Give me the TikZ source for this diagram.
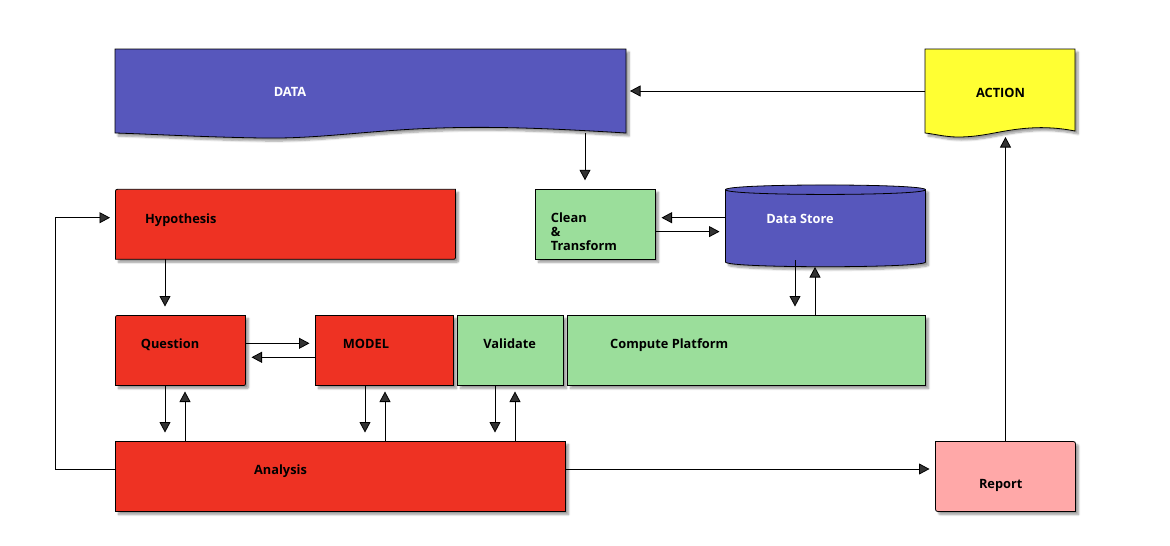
\documentclass[tikz,border=0pt]{standalone}
\usepackage{fontspec}
\setmainfont{Open Sans}
\usetikzlibrary{arrows.meta, shadows, shadows.blur, positioning}

\definecolor{datablue}{RGB}{87,87,188}
\definecolor{taskred}{RGB}{238,50,35}
\definecolor{platgreen}{RGB}{155,222,155}
\definecolor{actyellow}{RGB}{255,255,51}
\definecolor{reportpink}{RGB}{255,168,168}

\tikzset{
  shade box/.style={draw=black, line width=0.8pt,
    blur shadow={shadow xshift=3pt, shadow yshift=-3pt, shadow blur radius=2pt,
      shadow blur steps=6, shadow opacity=40}},
  box/.style={shade box, rectangle, inner sep=0pt, outer sep=0pt},
  frame/.style={rectangle, inner sep=0pt, outer sep=0pt},
  tag/.style={inner sep=0pt, font=\bfseries\fontsize{12.8}{14}\selectfont},
  lbl/.style={tag, text height=0.72em, text depth=0pt, yshift=-2pt},
  flow/.style={line width=0.8pt, -{Triangle[length=10.5pt,width=11pt]}, shorten >=6pt},
  flow down/.style={flow, shorten >=9pt},
}

\begin{document}
\begin{tikzpicture}[x=1pt, y=-1pt]
  \useasboundingbox (0,0) rectangle (1170,546);

  % outlines that are not plain rectangles
  \node[frame, minimum width=511, minimum height=84] (data) at (370.5,91) {};
  \node[frame, minimum width=150, minimum height=84] (action) at (1000,91) {};
  \node[frame, minimum width=340, minimum height=70] (hyp) at (285.5,224.3) {};
  \node[frame, minimum width=200, minimum height=82] (store) at (825.5,226) {};
  \node[frame, minimum width=130, minimum height=70] (quest) at (180.5,350.5) {};
  \node[frame, minimum width=140, minimum height=70] (report) at (1005.5,476.5) {};

  \path[shade box, fill=datablue] (data.north west) -- (data.north east) -- (data.south east)
    .. controls (560,129) and (500,126) .. (440,128)
    .. controls (370,130) and (320,139) .. (262,138)
    .. controls (200,137) and (150,134) .. (data.south west) -- cycle;
  \path[shade box, fill=actyellow] (action.north west) -- (action.north east) -- (1075,131)
    .. controls (1060,128) and (1045,127) .. (1030,128)
    .. controls (1000,130) and (985,137) .. (958,137)
    .. controls (945,137) and (935,134) .. (action.south west) -- cycle;
  \path[shade box, fill=taskred] (115.5,193.3) .. controls (115.5,189.3) .. (119.5,189.3)
    -- (455.5,189.3) -- (455.5,255.3) .. controls (455.5,259.3) .. (451.5,259.3)
    -- (115.5,259.3) -- cycle;
  \path[shade box, fill=datablue] (725.5,189.7) -- (725.5,262)
    .. controls (725.5,268.3) and (925.5,268.3) .. (925.5,262) -- (925.5,189.7)
    .. controls (925.5,183.4) and (725.5,183.4) .. cycle;
  \draw[line width=0.8pt] (725.5,189.7) .. controls (725.5,196) and (925.5,196) .. (925.5,189.7);
  \path[shade box, fill=taskred] (115.5,319.5) .. controls (115.5,315.5) .. (119.5,315.5)
    -- (245.5,315.5) -- (245.5,381.5) .. controls (245.5,385.5) .. (241.5,385.5)
    -- (115.5,385.5) -- cycle;
  \path[shade box, fill=reportpink] (935.5,441.5) -- (1070.5,441.5)
    .. controls (1075.5,441.5) .. (1075.5,446.5) -- (1075.5,511.5) -- (940.5,511.5)
    .. controls (935.5,511.5) .. (935.5,506.5) -- cycle;

  % plain boxes
  \node[box, fill=platgreen, minimum width=120, minimum height=70] (clean) at (595.5,224.3) {};
  \node[box, fill=taskred, minimum width=138, minimum height=70] (model) at (384.5,350.5) {};
  \node[box, fill=platgreen, minimum width=106, minimum height=70] (valid) at (510.5,350.5) {};
  \node[box, fill=platgreen, minimum width=358, minimum height=70] (comp) at (746.5,350.5) {};
  \node[box, fill=taskred, minimum width=450, minimum height=70] (anal) at (340.5,476.5) {};

  % texts
  \node[lbl, text=white] (data-t) at (290,91) {DATA};
  \node[lbl] (action-t) at (1000.5,91.7) {ACTION};
  \node[lbl, anchor=west] (hyp-t) at (145,217.7) {Hypothesis};
  \node[tag, anchor=base west, align=left] (clean-t) at (550.7,250.2) {Clean\\\&\\Transform};
  \node[lbl, text=white] (store-t) at (800,217.7) {Data Store};
  \node[lbl, anchor=west] (quest-t) at (140.7,343.3) {Question};
  \node[lbl, anchor=west] (model-t) at (342.7,343.3) {MODEL};
  \node[lbl] (valid-t) at (509.7,343.3) {Validate};
  \node[lbl, anchor=west] (comp-t) at (610,343.3) {Compute Platform};
  \node[lbl] (anal-t) at (280.5,469.3) {Analysis};
  \node[lbl] (report-t) at (1000.7,483.3) {Report};

  % connectors
  \draw[flow, shorten >=4pt] (action.west) -- (data.east);
  \draw[flow down] ([xshift=-10.5pt]clean.north |- data.south) -- ([xshift=-10.5pt]clean.north);
  \draw[flow] ([yshift=8.3pt]store.west) -- ([yshift=8.3pt]store.west -| clean.east);
  \draw[flow] ([yshift=-7.3pt]clean.east) -- ([yshift=-7.3pt]clean.east -| store.west);
  \draw[flow down] ([xshift=-30.5pt,yshift=7pt]store.south) -- ([xshift=-30.5pt]store.south |- comp.north);
  \draw[flow, shorten >=0pt] ([xshift=-10.5pt]store.south |- comp.north) -- ([xshift=-10.5pt]store.south);
  \draw[flow down] ([xshift=-15.5pt]quest.north |- hyp.south) -- ([xshift=-15.5pt]quest.north);
  \draw[flow] ([yshift=7.2pt]quest.east) -- ([yshift=7.2pt]quest.east -| model.west);
  \draw[flow] ([yshift=-6.8pt]model.west) -- ([yshift=-6.8pt]model.west -| quest.east);
  \draw[flow down] ([xshift=-15.5pt]quest.south) -- ([xshift=-15.5pt]quest.south |- anal.north);
  \draw[flow] ([xshift=4.5pt]quest.south |- anal.north) -- ([xshift=4.5pt]quest.south);
  \draw[flow down] ([xshift=-19.5pt]model.south) -- ([xshift=-19.5pt]model.south |- anal.north);
  \draw[flow] ([xshift=0.5pt]model.south |- anal.north) -- ([xshift=0.5pt]model.south);
  \draw[flow down] ([xshift=-15.5pt]valid.south) -- ([xshift=-15.5pt]valid.south |- anal.north);
  \draw[flow] ([xshift=4.5pt]valid.south |- anal.north) -- ([xshift=4.5pt]valid.south);
  \draw[flow] ([yshift=7.5pt]anal.east) -- ([yshift=7.5pt]anal.east -| report.west);
  \draw[flow, shorten >=4pt] (report.north) -- (report.north |- action.south);
  \draw[flow, shorten >=5.5pt] ([yshift=7.5pt]anal.west) -- ++(-60,0) |- ([yshift=6.6pt]hyp.west);
\end{tikzpicture}
\end{document}
